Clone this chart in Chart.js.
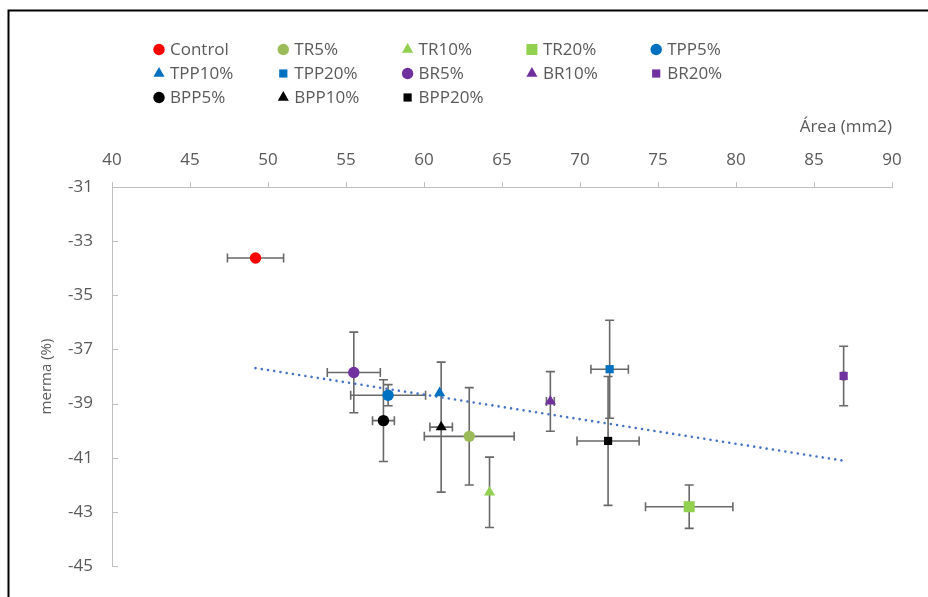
<!DOCTYPE html>
<html><head><meta charset="utf-8">
<script src="https://cdn.jsdelivr.net/npm/chart.js"></script>
<style>html,body{margin:0;padding:0;background:#fff;overflow:hidden}canvas{display:block}</style>
</head><body>
<canvas id="c" width="928" height="597"></canvas>
<script>
// ---- data ----
const seriesNames = ['Control','TR5%','TR10%','TR20%','TPP5%','TPP10%','TPP20%','BR5%','BR10%','BR20%','BPP5%','BPP10%','BPP20%'];
const areaValues  = [49.2, 62.9, 64.2, 77.0, 57.7, 61.0, 71.9, 55.5, 68.1, 86.9, 57.4, 61.1, 71.8];
const mermaValues = [-33.62, -40.21, -42.28, -42.81, -38.69, -38.61, -37.73, -37.85, -38.92, -37.98, -39.63, -39.87, -40.38];
const areaErrors  = [1.8, 2.88, 0, 2.8, 2.4, 0, 1.2, 1.7, 0.25, 0.08, 0.7, 0.72, 1.99];
const mermaErrors = [0, 1.8, 1.3, 0.8, 0.39, 0, 1.81, 1.49, 1.1, 1.1, 1.51, 2.4, 2.38];
const xTickValues = [40, 45, 50, 55, 60, 65, 70, 75, 80, 85, 90];
const yTickValues = [-31, -33, -35, -37, -39, -41, -43, -45];
const xAxisTitle = 'Área (mm2)';
const yAxisTitle = 'merma (%)';

// ---- styles ----
const seriesColors = ['#FF0000','#9BBB59','#92D050','#92D050','#0070C0','#0070C0','#0070C0','#7030A0','#7030A0','#7030A0','#000000','#000000','#000000'];
const seriesShapes = ['circle','circle','triangle','rect','circle','triangle','rect','circle','triangle','rect','circle','triangle','rect'];
const seriesRadii  = [5.7, 5.7, 6.4, 7.8, 5.7, 6.4, 5.8, 5.7, 6.4, 5.8, 5.7, 6.4, 5.8];
const FONT = '"Open Sans", Lato, sans-serif';
const TEXT = '#595959';
const AXIS = '#BFBFBF';

// ---- linear trendline (least squares over all points) ----
const n = areaValues.length;
const mx = areaValues.reduce((a, b) => a + b, 0) / n;
const my = mermaValues.reduce((a, b) => a + b, 0) / n;
let sxy = 0, sxx = 0;
for (let i = 0; i < n; i++) { sxy += (areaValues[i] - mx) * (mermaValues[i] - my); sxx += (areaValues[i] - mx) ** 2; }
const slope = sxy / sxx, icpt = my - slope * mx;
const xMin = Math.min(...areaValues), xMax = Math.max(...areaValues);
const trendData = [{x: xMin, y: icpt + slope * xMin}, {x: xMax, y: icpt + slope * xMax}];

const datasets = seriesNames.map((name, i) => ({
  label: name, type: 'scatter',
  data: [{x: areaValues[i], y: mermaValues[i]}],
  xErr: areaErrors[i], yErr: mermaErrors[i],
  backgroundColor: seriesColors[i], borderColor: seriesColors[i], borderWidth: 0,
  pointStyle: seriesShapes[i], pointRadius: seriesRadii[i], pointHoverRadius: seriesRadii[i]
}));
datasets.push({
  label: 'Lineal', type: 'line', data: trendData, isTrend: true,
  borderColor: '#4472C4', borderWidth: 2.6, borderDash: [0.01, 6.3], borderCapStyle: 'round',
  pointRadius: 0, fill: false, tension: 0
});

const framePlugin = {
  id: 'frame',
  beforeDraw(chart) {
    const ctx = chart.ctx;
    ctx.save();
    ctx.fillStyle = '#fff'; ctx.fillRect(0, 0, chart.width, chart.height);
    ctx.strokeStyle = '#000'; ctx.lineWidth = 2;
    ctx.strokeRect(8.5, 10.5, 2000, 2000);
    ctx.restore();
  }
};

const yTickPlugin = {
  id: 'yInwardTicks',
  afterDraw(chart) {
    const ctx = chart.ctx, ys = chart.scales.y, a = chart.chartArea;
    ctx.save(); ctx.strokeStyle = AXIS; ctx.lineWidth = 1;
    yTickValues.forEach(v => {
      const py = Math.round(ys.getPixelForValue(v)) + 0.5;
      ctx.beginPath(); ctx.moveTo(a.left, py); ctx.lineTo(a.left + 6, py); ctx.stroke();
    });
    ctx.restore();
  }
};

const errorBarPlugin = {
  id: 'errorBars',
  beforeDatasetsDraw(chart) {
    const ctx = chart.ctx, xs = chart.scales.x, ys = chart.scales.y;
    const cap = 4.5;
    ctx.save(); ctx.strokeStyle = '#686868'; ctx.lineWidth = 1.6;
    chart.data.datasets.forEach(ds => {
      if (ds.isTrend) return;
      ds.data.forEach(p => {
        const cx = xs.getPixelForValue(p.x), cy = ys.getPixelForValue(p.y);
        if (ds.xErr > 0) {
          const x1 = xs.getPixelForValue(p.x - ds.xErr), x2 = xs.getPixelForValue(p.x + ds.xErr);
          ctx.beginPath();
          ctx.moveTo(x1, cy); ctx.lineTo(x2, cy);
          ctx.moveTo(x1, cy - cap); ctx.lineTo(x1, cy + cap);
          ctx.moveTo(x2, cy - cap); ctx.lineTo(x2, cy + cap);
          ctx.stroke();
        }
        if (ds.yErr > 0) {
          const y1 = ys.getPixelForValue(p.y + ds.yErr), y2 = ys.getPixelForValue(p.y - ds.yErr);
          ctx.beginPath();
          ctx.moveTo(cx, y1); ctx.lineTo(cx, y2);
          ctx.moveTo(cx - cap, y1); ctx.lineTo(cx + cap, y1);
          ctx.moveTo(cx - cap, y2); ctx.lineTo(cx + cap, y2);
          ctx.stroke();
        }
      });
    });
    ctx.restore();
  }
};

function drawMarker(ctx, shape, r, x, y) {
  if (Chart.helpers && Chart.helpers.drawPoint) {
    Chart.helpers.drawPoint(ctx, {pointStyle: shape, radius: r, rotation: 0, borderWidth: 0}, x, y);
    return;
  }
  ctx.beginPath();
  if (shape === 'circle') ctx.arc(x, y, r, 0, Math.PI * 2);
  else if (shape === 'rect') { const s = r * Math.SQRT1_2; ctx.rect(x - s, y - s, 2 * s, 2 * s); }
  else { ctx.moveTo(x, y - r); ctx.lineTo(x + r * 0.866, y + r / 2); ctx.lineTo(x - r * 0.866, y + r / 2); ctx.closePath(); }
  ctx.fill();
}

const legendPlugin = {
  id: 'gridLegend',
  afterDraw(chart) {
    const ctx = chart.ctx;
    const colX0 = 159, colDX = 124.3, rowY0 = 49.5, rowDY = 24;
    ctx.save();
    ctx.font = '17px ' + FONT; ctx.textBaseline = 'middle'; ctx.textAlign = 'left';
    chart.data.datasets.forEach((ds, i) => {
      if (ds.isTrend) return;
      const col = i % 5, row = Math.floor(i / 5);
      const x = colX0 + col * colDX, y = rowY0 + row * rowDY;
      ctx.fillStyle = ds.backgroundColor; ctx.strokeStyle = ds.backgroundColor;
      drawMarker(ctx, ds.pointStyle, ds.pointRadius, x, y);
      ctx.fillStyle = TEXT;
      ctx.fillText(ds.label, x + 11, y + 1);
    });
    ctx.restore();
  }
};

new Chart(document.getElementById('c'), {
  type: 'scatter',
  data: {datasets},
  options: {
    responsive: false, devicePixelRatio: 1, animation: false,
    layout: {padding: {left: 0, top: 0, right: 36, bottom: 31}},
    plugins: {legend: {display: false}, tooltip: {enabled: false}, title: {display: false}},
    scales: {
      x: {
        type: 'linear', position: 'top', min: 40, max: 90,
        afterBuildTicks: s => { s.ticks = xTickValues.map(v => ({value: v})); },
        afterFit: s => { s.height = 187; },
        ticks: {color: TEXT, font: {family: FONT, size: 17}, padding: 12, maxRotation: 0},
        grid: {display: true, drawOnChartArea: false, drawTicks: true, tickLength: 5, color: AXIS},
        border: {display: true, color: AXIS, width: 1},
        title: {display: true, text: xAxisTitle, align: 'end', color: TEXT, font: {family: FONT, size: 17}, padding: {top: 117, bottom: 0}}
      },
      y: {
        type: 'linear', position: 'left', min: -45, max: -31,
        afterBuildTicks: s => { s.ticks = yTickValues.map(v => ({value: v})); },
        afterFit: s => { s.width = 112; },
        ticks: {color: TEXT, font: {family: FONT, size: 17}, padding: 19},
        grid: {display: true, drawOnChartArea: false, drawTicks: false, color: AXIS},
        border: {display: true, color: AXIS, width: 1},
        title: {display: true, text: yAxisTitle, color: TEXT, font: {family: FONT, size: 15}, padding: {top: 38, bottom: 0}}
      }
    }
  },
  plugins: [framePlugin, errorBarPlugin, yTickPlugin, legendPlugin]
});
</script>
</body></html>
